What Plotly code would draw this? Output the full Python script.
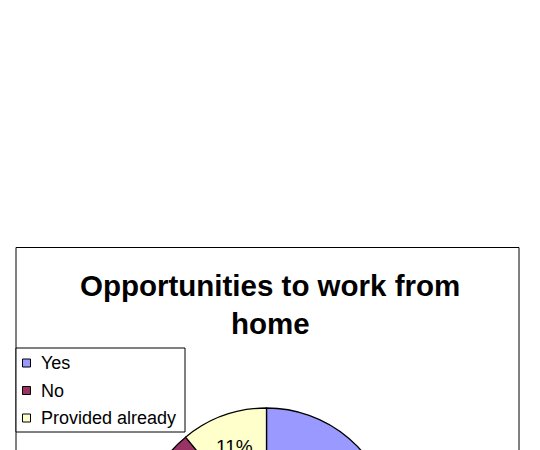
import math
import plotly.graph_objects as go

# Survey answers
labels = ["Yes", "No", "Provided already"]
values = [45, 44, 11]
colors = ["#9999FF", "#993366", "#FFFFCC"]
title_lines = ["Opportunities to work from", "home"]

W, H = 540, 720
FONT = "Liberation Sans, Arial, sans-serif"

# pie geometry in pixels
cx, cy, r = 266.5, 535.0, 127.0

def px(x):
    return x / W

def py(y):
    return 1 - y / H

fig = go.Figure()
fig.add_trace(go.Pie(
    labels=labels,
    values=values,
    sort=False,
    direction="clockwise",
    rotation=0,
    marker=dict(colors=colors, line=dict(color="#000000", width=1.3)),
    textinfo="none",
    hoverinfo="label+percent",
    showlegend=False,
    domain=dict(x=[px(cx - r), px(cx + r)], y=[py(cy + r), py(cy - r)]),
))

shapes = []
annotations = []

# chart area frame
shapes.append(dict(type="rect", xref="paper", yref="paper",
                   x0=px(16), x1=px(519), y0=py(700), y1=py(247.5),
                   line=dict(color="#000000", width=1), fillcolor="rgba(0,0,0,0)"))

# title
for i, line in enumerate(title_lines):
    annotations.append(dict(text="<b>%s</b>" % line, x=px(270), y=py(286 + 38 * i),
                            xref="paper", yref="paper", xanchor="center", yanchor="middle",
                            showarrow=False, font=dict(family=FONT, size=29.5, color="#000000")))

# percentage labels placed along each slice's mid-angle
total = float(sum(values))
start = 0.0
for v in values:
    frac = v / total
    mid = (start + frac / 2) * 2 * math.pi
    lx = cx + 0.74 * r * math.sin(mid)
    ly = cy - 0.74 * r * math.cos(mid)
    annotations.append(dict(text="%d%%" % round(frac * 100), x=px(lx), y=py(ly),
                            xref="paper", yref="paper", xanchor="center", yanchor="middle",
                            showarrow=False, font=dict(family=FONT, size=19, color="#000000")))
    start += frac

# legend box
shapes.append(dict(type="rect", xref="paper", yref="paper",
                   x0=px(16), x1=px(185), y0=py(432), y1=py(348),
                   line=dict(color="#000000", width=1), fillcolor="#FFFFFF"))
for i, (lab, col) in enumerate(zip(labels, colors)):
    yc = 363 + 27.5 * i
    shapes.append(dict(type="rect", xref="paper", yref="paper",
                       x0=px(22.5), x1=px(30.5), y0=py(yc + 4), y1=py(yc - 4),
                       line=dict(color="#000000", width=1), fillcolor=col))
    annotations.append(dict(text=lab, x=px(39), y=py(yc), xref="paper", yref="paper",
                            xanchor="left", yanchor="middle", showarrow=False,
                            font=dict(family=FONT, size=18, color="#000000")))

fig.update_layout(
    width=W, height=H,
    margin=dict(l=0, r=0, t=0, b=0),
    paper_bgcolor="#FFFFFF",
    plot_bgcolor="#FFFFFF",
    shapes=shapes,
    annotations=annotations,
)

fig.write_html("out.html", post_script="document.body.style.overflow='hidden';"
               "document.documentElement.style.overflow='hidden';")
